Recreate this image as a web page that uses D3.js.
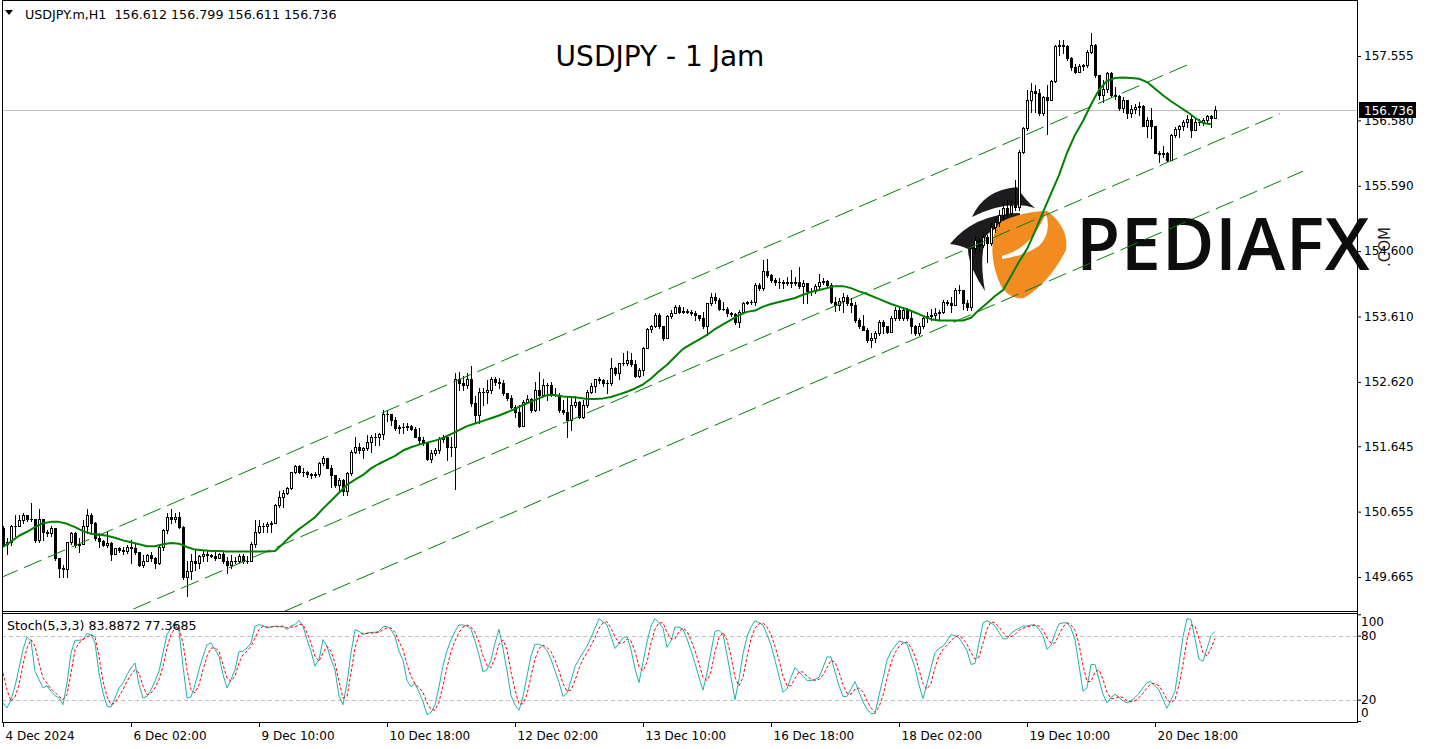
<!DOCTYPE html>
<html>
<head>
<meta charset="utf-8">
<script src="https://cdn.jsdelivr.net/npm/d3@7"></script>
<style>
  body { margin: 0; background: #fff; }
  svg { display: block; }
  text { font-family: "DejaVu Sans", Verdana, sans-serif; }
</style>
</head>
<body>
<div id="chart"></div>
<script>
// ---- chart data ----
var symbolHeader = "USDJPY.m,H1  156.612 156.799 156.611 156.736";
var chartTitle = "USDJPY - 1 Jam";
var stochHeader = "Stoch(5,3,3) 83.8872 77.3685";
var bidPrice = 156.736;
var firstOpen = 150.40;

var closes = [150.17,150.20,150.43,150.44,150.53,150.60,150.54,150.55,150.22,150.55,
150.35,150.33,150.40,149.95,149.80,149.78,150.20,150.33,150.15,150.17,
150.43,150.60,150.48,150.25,150.21,150.15,150.18,150.02,150.10,150.08,
150.06,150.12,150.10,150.05,149.85,149.91,150.00,149.96,149.87,150.12,
150.38,150.58,150.55,150.58,150.42,149.67,149.75,149.90,149.87,149.98,
150.01,150.00,149.99,149.95,150.01,149.91,149.85,149.91,149.91,149.99,
149.91,149.90,150.16,150.35,150.43,150.44,150.47,150.49,150.76,150.88,
150.93,151.02,151.25,151.34,151.26,151.25,151.22,151.21,151.23,151.39,
151.46,151.32,151.21,151.06,151.13,150.96,151.24,151.56,151.64,151.59,
151.62,151.71,151.79,151.79,151.83,152.14,152.14,152.04,151.92,151.93,
151.94,151.95,151.90,151.79,151.74,151.70,151.45,151.55,151.59,151.76,
151.79,151.64,151.63,152.67,152.60,152.57,152.66,152.30,152.12,152.47,
152.47,152.50,152.67,152.62,152.60,152.45,152.37,152.24,152.17,151.95,
152.32,152.36,152.19,152.50,152.42,152.57,152.57,152.42,152.42,152.19,
152.17,152.04,152.27,152.32,152.09,152.27,152.47,152.55,152.66,152.65,
152.60,152.60,152.83,152.75,152.90,152.90,152.95,152.89,152.71,152.80,
153.13,153.42,153.47,153.63,153.46,153.29,153.61,153.67,153.75,153.68,
153.69,153.68,153.66,153.63,153.58,153.46,153.81,153.91,153.86,153.73,
153.73,153.66,153.65,153.52,153.68,153.81,153.83,153.83,154.09,154.04,
154.30,154.24,154.16,154.14,154.14,154.12,154.14,154.11,154.14,154.07,
154.11,153.99,153.99,154.07,154.14,154.15,154.09,153.83,153.78,153.85,
153.91,153.81,153.78,153.56,153.46,153.41,153.25,153.28,153.36,153.53,
153.46,153.38,153.58,153.71,153.58,153.71,153.58,153.46,153.36,153.47,
153.58,153.61,153.63,153.66,153.68,153.83,153.81,153.78,154.01,154.01,
153.81,153.76,154.64,154.77,154.69,154.82,154.72,154.97,155.04,155.15,
155.25,155.18,155.30,155.27,156.10,156.46,156.89,157.03,156.99,156.69,
156.93,156.89,157.17,157.71,157.72,157.71,157.52,157.39,157.32,157.40,
157.42,157.62,157.72,157.27,156.96,157.05,157.29,156.96,156.95,156.76,
156.89,156.69,156.75,156.78,156.80,156.50,156.59,156.49,156.09,156.07,
156.08,155.98,156.36,156.45,156.49,156.55,156.60,156.43,156.56,156.56,
156.59,156.64,156.612,156.736];

var highs = [150.43,150.25,150.45,150.60,150.60,150.63,150.58,150.78,150.55,150.70,
150.55,150.38,150.43,150.41,149.95,149.85,150.20,150.34,150.34,150.25,
150.53,150.70,150.64,150.50,150.33,150.22,150.35,150.20,150.11,150.12,
150.12,150.15,150.22,150.17,150.05,150.00,150.01,150.05,149.97,150.15,
150.39,150.63,150.70,150.63,150.65,150.44,149.90,150.02,150.07,150.00,
150.07,150.07,150.02,150.07,150.03,150.05,149.97,150.00,149.97,150.02,
150.02,149.98,150.20,150.53,150.53,150.48,150.50,150.52,150.77,150.96,
150.98,151.03,151.26,151.36,151.36,151.32,151.27,151.24,151.25,151.41,
151.50,151.46,151.36,151.21,151.16,151.15,151.26,151.59,151.79,151.69,
151.63,151.82,151.82,151.85,151.85,152.19,152.19,152.14,152.09,151.97,
151.99,151.99,151.97,151.94,151.92,151.79,151.71,151.59,151.62,151.78,
151.82,151.82,151.79,152.75,152.77,152.71,152.75,152.86,152.40,152.52,
152.53,152.65,152.70,152.70,152.68,152.65,152.45,152.42,152.27,152.27,
152.35,152.42,152.37,152.62,152.77,152.67,152.60,152.62,152.53,152.45,
152.35,152.40,152.40,152.40,152.33,152.35,152.50,152.60,152.67,152.69,
152.67,152.65,152.98,152.85,152.91,153.05,153.08,153.06,152.95,152.83,
153.15,153.43,153.48,153.66,153.66,153.47,153.63,153.71,153.78,153.78,
153.75,153.73,153.71,153.69,153.63,153.68,153.82,153.96,153.97,153.89,
153.83,153.76,153.68,153.67,153.71,153.83,153.84,153.86,154.11,154.12,
154.47,154.48,154.26,154.19,154.19,154.16,154.21,154.31,154.21,154.36,
154.16,154.12,154.04,154.10,154.25,154.19,154.16,154.12,153.91,153.89,
153.96,153.94,153.89,153.83,153.58,153.63,153.43,153.36,153.39,153.56,
153.56,153.47,153.61,153.76,153.76,153.76,153.74,153.68,153.48,153.51,
153.63,153.68,153.73,153.74,153.71,153.86,153.86,153.91,154.04,154.09,
154.01,153.86,154.67,154.82,154.80,154.87,154.84,155.02,155.10,155.22,
155.33,155.37,155.37,155.68,156.13,156.48,157.04,157.15,157.12,157.05,
156.95,157.12,157.19,157.72,157.79,157.80,157.72,157.54,157.43,157.43,
157.44,157.65,157.91,157.74,157.27,157.19,157.32,157.32,157.09,156.96,
156.93,156.89,156.81,156.83,156.86,156.81,156.63,156.76,156.50,156.12,
156.19,156.10,156.38,156.48,156.51,156.59,156.66,156.66,156.61,156.60,
156.61,156.66,156.66,156.799];

var lows = [150.15,150.02,150.15,150.28,150.43,150.48,150.52,150.52,150.20,150.20,
150.22,150.28,150.28,149.92,149.67,149.67,149.66,150.17,150.12,150.05,
150.16,150.33,150.33,150.22,150.12,150.13,150.12,149.92,150.01,150.05,
150.02,150.03,149.87,150.02,149.83,149.82,149.90,149.90,149.80,149.86,
150.07,150.33,150.48,150.50,150.40,149.64,149.37,149.64,149.77,149.80,
149.90,149.90,149.97,149.92,149.95,149.87,149.72,149.80,149.87,149.87,
149.87,149.87,149.95,150.12,150.33,150.35,150.35,150.35,150.48,150.73,
150.73,150.92,151.00,151.24,151.24,151.20,151.18,151.16,151.18,151.20,
151.36,151.31,151.03,151.03,150.96,150.91,150.91,151.21,151.54,151.54,
151.46,151.59,151.56,151.66,151.66,151.76,152.02,151.97,151.89,151.84,
151.84,151.89,151.89,151.78,151.69,151.66,151.44,151.41,151.51,151.54,
151.71,151.44,151.49,151.00,152.50,152.50,152.52,152.25,151.99,151.99,
152.27,152.30,152.45,152.57,152.53,152.42,152.35,152.22,152.09,151.94,
151.97,152.30,152.17,152.18,152.19,152.45,152.35,152.40,152.41,152.17,
152.14,151.79,151.89,152.24,152.07,152.07,152.24,152.45,152.47,152.60,
152.55,152.45,152.57,152.72,152.67,152.87,152.87,152.86,152.69,152.70,
152.72,153.13,153.38,153.45,153.43,153.25,153.29,153.58,153.66,153.67,
153.66,153.66,153.63,153.56,153.56,153.43,153.33,153.78,153.81,153.71,
153.71,153.61,153.61,153.50,153.45,153.68,153.80,153.80,153.78,154.01,
154.01,154.21,154.13,154.09,154.04,154.04,154.09,154.06,154.09,154.04,
153.81,153.81,153.94,153.97,154.04,154.10,154.06,153.81,153.70,153.71,
153.68,153.78,153.68,153.53,153.43,153.40,153.23,153.15,153.23,153.33,
153.36,153.36,153.38,153.56,153.56,153.56,153.56,153.36,153.33,153.33,
153.43,153.53,153.55,153.56,153.56,153.66,153.78,153.68,153.78,153.96,
153.73,153.71,153.71,154.57,154.62,154.67,154.44,154.69,154.89,154.98,
155.07,155.13,155.15,155.22,155.22,156.08,156.43,156.71,156.71,156.66,
156.66,156.38,156.91,157.16,157.57,157.60,157.49,157.34,157.29,157.31,
157.34,157.39,157.60,157.24,156.91,156.86,157.01,156.94,156.91,156.74,
156.71,156.61,156.63,156.69,156.66,156.49,156.33,156.31,156.08,155.95,
156.03,155.97,155.98,156.33,156.33,156.43,156.48,156.33,156.43,156.51,
156.51,156.56,156.48,156.611];

// green moving average, one reading every second bar
var maEvery = 2;
var maValues = [150.12,150.20,150.29,150.35,150.42,150.48,150.50,150.50,150.47,150.42,
150.36,150.32,150.31,150.29,150.26,150.22,150.19,150.16,150.13,150.13,
150.16,150.18,150.17,150.12,150.08,150.07,150.06,150.06,150.05,150.05,
150.05,150.05,150.05,150.05,150.06,150.17,150.29,150.39,150.48,150.57,
150.70,150.82,150.94,151.06,151.14,151.21,151.31,151.38,151.44,151.50,
151.58,151.63,151.67,151.70,151.73,151.77,151.83,151.89,151.95,151.99,
152.03,152.07,152.11,152.16,152.21,152.27,152.32,152.37,152.42,152.42,
152.40,152.39,152.38,152.36,152.36,152.37,152.39,152.43,152.47,152.52,
152.58,152.67,152.78,152.88,153.00,153.12,153.19,153.26,153.33,153.42,
153.49,153.56,153.63,153.68,153.70,153.76,153.80,153.83,153.86,153.89,
153.94,153.98,154.01,154.04,154.07,154.07,154.04,153.99,153.95,153.90,
153.85,153.80,153.76,153.72,153.67,153.62,153.57,153.55,153.55,153.55,
153.55,153.59,153.71,153.81,153.92,154.01,154.22,154.44,154.63,154.90,
155.19,155.47,155.75,156.09,156.36,156.57,156.82,157.04,157.18,157.22,
157.23,157.22,157.21,157.16,157.06,156.96,156.87,156.79,156.71,156.62,
156.54,156.52];

// channel lines: [bar, price] anchors
var channelUpper = [[-0.75, 149.65], [297.25, 157.45]];
var channelMiddle = [[32.6, 149.18], [319.25, 156.68]];
var channelLower = [[70.5, 149.15], [325, 155.81]];

// stochastic %K (main) and %D (signal), one value per bar
var stochK = [16.9,12.2,20,32.5,49.7,66.9,78.7,74.7,46.6,38.8,31,33.1,27.8,23.8,21.5,15.3,35.6,63.8,75.6,75.6,
76.3,81.9,80.9,73.1,45,26.3,13.8,13.1,21.5,31,35.6,43.4,49.7,54.4,34.1,21.5,23.1,29.4,37.2,46.6,
63.8,80.9,87.2,91.9,84.1,51.3,21.5,22.5,34.1,48.1,60.6,71.6,73.1,66.9,60.6,43.4,31,38.8,48.1,65.3,
65.3,68.4,73.1,88.8,90.3,89.4,87.2,88.1,88.8,88.1,89.4,85.6,89.4,90.3,94.4,88.8,76.3,65.3,51.3,57.5,
76.3,70,57.5,48.1,23.1,15.3,35.6,63.8,85.6,84.1,80.9,82.5,83.1,83.1,84.1,88.1,88.8,85.6,79.4,65.3,
57,38,32,35,27,18,6,8,15,32,52,66,76,84,90,90,89,86,75,62,
46,48,57,73,86,68,47,24,15,10,23,42,61,72,72,70,66,58,47,36,
23,26,38,51,58,64,70,78,87,96,93,90,79,68,73,78,79,67,49,36,
55,74,89,96,92,87,69,75,88,88,86,77,66,54,41,29,45,65,84,85,
81,62,41,20,39,63,79,88,94,92,90,81,71,57,42,27,30,41,50,46,
42,38,38,39,41,50,60,60,46,33,23,23,30,37,27,18,11,7,7,24,
40,57,65,70,75,74,72,61,50,34,21,35,50,64,68,70,75,81,80,78,
72,66,53,54,73,92,94,92,89,83,77,77,82,85,87,89,89,90,90,86,
80,67,71,82,91,92,92,87,76,52,28,31,53,53,39,25,17,22,25,22,
19,17,19,22,26,31,36,37,33,29,20,12,20,28,53,79,96,95,77,58,
56,68,80,83.89];

var stochD = [45,29.4,18.4,22.5,34.1,52.8,68.4,76.3,70,54.4,40.3,35.6,30,26.9,23.1,20,24.7,45,66.9,73.1,
76.3,78.8,80.9,78.8,60.6,37.2,23.1,15.3,16.9,23.1,29.4,37.2,43.4,48.1,45,32.5,24.7,26.3,31,38.8,
51.3,68.4,80.9,87.2,87.2,73.1,48.1,29.4,26.3,34.1,48.1,60.6,68.4,68.4,65.3,52.8,40.3,37.2,41.9,54.4,
62.2,65.3,70,77.8,85.6,88.8,88.1,88.1,88.8,88.8,88.1,87.2,88.1,88.1,90.3,90.3,82.5,73.1,60.6,55.9,
63.8,70,65.3,54.4,37.2,21.5,23.1,45,68.4,80.9,82.5,81.9,82.5,82.5,83.1,85.6,87.2,87.2,83.1,74.7,
67,53,42,35,31,27,17,11,10,18,33,50,65,75,83,88,90,88,83,74,
61,52,50,59,72,76,67,46,29,16,16,25,42,58,68,71,69,65,57,47,
35,28,29,38,49,58,64,71,78,87,92,93,87,79,73,73,77,75,65,51,
47,55,73,86,92,92,83,77,77,84,87,84,76,66,54,41,38,46,65,78,
83,76,61,41,33,41,60,77,87,91,92,88,81,70,57,42,33,33,40,46,
46,42,39,38,39,43,50,57,55,46,34,26,25,30,31,27,19,12,8,13,
24,40,54,64,70,73,74,69,61,48,35,30,35,50,61,67,71,75,79,80,
77,72,64,58,60,73,86,93,92,88,83,79,79,81,85,87,88,89,90,89,
85,78,73,73,81,88,92,90,85,72,52,37,37,46,48,39,27,21,21,23,
22,19,18,19,22,26,31,35,35,33,27,20,17,20,34,53,76,90,89,77,
64,61,68,77.37];

var priceTicks = [149.665, 150.655, 151.645, 152.620, 153.610, 154.600, 155.590, 156.580, 157.555];
var stochTicks = [0, 20, 80, 100];
var stochLevels = [20, 80];
var dateTickBars = [0, 32, 64, 96, 128, 160, 192, 224, 256, 288];
var dateLabels = ["4 Dec 2024", "6 Dec 02:00", "9 Dec 10:00", "10 Dec 18:00", "12 Dec 02:00",
  "13 Dec 10:00", "16 Dec 18:00", "18 Dec 02:00", "19 Dec 10:00", "20 Dec 18:00"];

// ---- layout ----
var width = 1429, height = 749;
var frameLeft = 2, frameRight = 1357;
var mainTop = 0, mainBottom = 611;
var stochTop = 613, stochBottom = 722;

var svg = d3.select("#chart").append("svg")
  .attr("width", width)
  .attr("height", height)
  .style("background", "#fff");

var x = d3.scaleLinear().domain([0, closes.length - 1]).range([3, 1215]);
var y = d3.scaleLinear().domain([149.665, 157.555]).range([577, 56]);
var sy = d3.scaleLinear().domain([0, 100]).range([721, 614.3]);

var defs = svg.append("defs");
defs.append("clipPath").attr("id", "clipMain").append("rect")
  .attr("x", frameLeft + 1).attr("y", mainTop + 1)
  .attr("width", frameRight - frameLeft - 1).attr("height", mainBottom - mainTop - 1);
defs.append("clipPath").attr("id", "clipStoch").append("rect")
  .attr("x", frameLeft + 1).attr("y", stochTop + 1)
  .attr("width", frameRight - frameLeft - 1).attr("height", stochBottom - stochTop - 1);

// ---- PEDIAFX watermark (behind the chart) ----
var logo = svg.append("g");
logo.append("path") // hat
  .attr("d", "M972,217 Q984,190 1017,187 Q1025,200 1035,208 Q1008,199 972,217 Z")
  .attr("fill", "#1c1c1e");
logo.append("path") // swoosh
  .attr("d", "M950,244 Q974,214 1020,213 L1020,224 Q996,224 986,236 Q979,258 985,291 Q968,266 968,249 Q960,245 950,244 Z")
  .attr("fill", "#1c1c1e");
logo.append("path") // orange body
  .attr("d", "M1000,222 Q1024,211 1047,211 Q1069,227 1066,250 Q1050,282 1024,298 Q1010,300 1001,286 Q990,262 993,240 Q995,228 1000,222 Z")
  .attr("fill", "#f28b20");
logo.append("path") // white cut in the orange
  .attr("d", "M1002,256 Q1031,249 1046,213 Q1052,233 1039,246 Q1024,256 1002,259 Z")
  .attr("fill", "#fff");
logo.append("text")
  .attr("x", 1076).attr("y", 270)
  .style("font-family", "'Open Sans', 'Noto Sans', sans-serif")
  .style("font-weight", 600)
  .style("font-size", "72px")
  .style("letter-spacing", "0.6px")
  .attr("fill", "#0d0d0d")
  .text("PEDIAFX");
logo.append("text")
  .attr("transform", "translate(1390,247) rotate(-90)")
  .attr("text-anchor", "middle")
  .style("font-size", "15px")
  .attr("fill", "#222")
  .text(".COM");

// ---- main panel ----
var main = svg.append("g").attr("clip-path", "url(#clipMain)");

main.append("line")
  .attr("x1", frameLeft).attr("x2", frameRight)
  .attr("y1", Math.round(y(bidPrice)) + 0.5).attr("y2", Math.round(y(bidPrice)) + 0.5)
  .attr("stroke", "#c0c0c0");

var bars = closes.map(function (c, i) {
  var o = i === 0 ? firstOpen : closes[i - 1];
  return { i: i, o: o, c: c, h: Math.max(highs[i], o, c), l: Math.min(lows[i], o, c) };
});

var candles = main.append("g").attr("shape-rendering", "crispEdges");
candles.selectAll("line.wick")
  .data(bars)
  .enter()
  .append("line")
  .attr("class", "wick")
  .attr("x1", function (d) { return x(d.i) + 0.5; })
  .attr("x2", function (d) { return x(d.i) + 0.5; })
  .attr("y1", function (d) { return Math.round(y(d.h)); })
  .attr("y2", function (d) { return Math.round(y(d.l)) + 1; })
  .attr("stroke", "#000");

candles.selectAll("rect.body")
  .data(bars)
  .enter()
  .append("rect")
  .attr("class", "body")
  .each(function (d) {
    var top = Math.round(y(Math.max(d.o, d.c)));
    var bot = Math.round(y(Math.min(d.o, d.c)));
    var r = d3.select(this);
    if (d.c > d.o && bot - top >= 2) {
      r.attr("x", x(d.i) - 0.5).attr("y", top + 0.5)
        .attr("width", 2).attr("height", bot - top)
        .attr("fill", "#fff").attr("stroke", "#000");
    } else {
      r.attr("x", x(d.i) - 1).attr("y", top)
        .attr("width", 3).attr("height", Math.max(bot - top, 0) + 1)
        .attr("fill", "#000");
    }
  });

// channel lines
var chanLine = d3.line()
  .x(function (d) { return x(d[0]); })
  .y(function (d) { return y(d[1]); });
[channelUpper, channelMiddle, channelLower].forEach(function (pts) {
  main.append("path")
    .attr("d", chanLine(pts))
    .attr("fill", "none")
    .attr("stroke", "#008000")
    .attr("stroke-width", 1)
    .attr("stroke-dasharray", "19,7");
});

// moving average
main.append("path")
  .attr("d", d3.line()
    .x(function (d, k) { return x(k * maEvery); })
    .y(function (d) { return y(d); })(maValues))
  .attr("fill", "none")
  .attr("stroke", "#008000")
  .attr("stroke-width", 2)
  .attr("stroke-linejoin", "round");

// chart title
svg.append("text")
  .attr("x", 660).attr("y", 66)
  .attr("text-anchor", "middle")
  .style("font-size", "28px")
  .attr("fill", "#000")
  .text(chartTitle);

// ---- stochastic panel ----
var stoch = svg.append("g").attr("clip-path", "url(#clipStoch)");
stochLevels.forEach(function (v) {
  stoch.append("line")
    .attr("x1", frameLeft).attr("x2", frameRight)
    .attr("y1", Math.round(sy(v)) + 0.5).attr("y2", Math.round(sy(v)) + 0.5)
    .attr("stroke", "#c0c0c0")
    .attr("stroke-dasharray", "4,3");
});
var stochLine = d3.line()
  .x(function (d, i) { return x(i); })
  .y(function (d) { return sy(d); });
stoch.append("path")
  .attr("d", stochLine(stochK))
  .attr("fill", "none")
  .attr("stroke", "#20b2aa")
  .attr("stroke-width", 1);
stoch.append("path")
  .attr("d", stochLine(stochD))
  .attr("fill", "none")
  .attr("stroke", "#ff0000")
  .attr("stroke-width", 1)
  .attr("stroke-dasharray", "3,2");

// ---- frames ----
var frame = svg.append("g").attr("stroke", "#000").attr("shape-rendering", "crispEdges");
frame.append("line").attr("x1", frameLeft + 0.5).attr("x2", frameLeft + 0.5).attr("y1", 0).attr("y2", stochBottom + 1);
frame.append("line").attr("x1", frameRight + 0.5).attr("x2", frameRight + 0.5).attr("y1", 0).attr("y2", stochBottom + 1);
[mainTop, mainBottom, stochTop, stochBottom].forEach(function (yy) {
  frame.append("line").attr("x1", frameLeft).attr("x2", frameRight + 1)
    .attr("y1", yy + 0.5).attr("y2", yy + 0.5);
});

// ---- axes ----
var priceAxis = svg.append("g")
  .attr("transform", "translate(" + frameRight + ",0)")
  .call(d3.axisRight(y).tickValues(priceTicks).tickSize(4).tickPadding(3)
    .tickFormat(d3.format(".3f")));
priceAxis.select(".domain").remove();
priceAxis.selectAll("text").attr("font-size", 12).attr("font-family", "DejaVu Sans").attr("fill", "#000");

var stochAxis = svg.append("g")
  .attr("transform", "translate(" + frameRight + ",0)")
  .call(d3.axisRight(sy).tickValues(stochTicks).tickSize(4).tickPadding(0));
stochAxis.select(".domain").remove();
stochAxis.selectAll("text")
  .attr("font-size", 12).attr("font-family", "DejaVu Sans").attr("fill", "#000")
  .attr("y", function (d) {
    var yy = sy(d);
    var c = Math.min(Math.max(yy, stochTop + 9), stochBottom - 9);
    return c - yy;
  });

var dateAxis = svg.append("g")
  .attr("transform", "translate(0," + stochBottom + ")")
  .call(d3.axisBottom(x).tickValues(dateTickBars).tickSize(5).tickPadding(4)
    .tickFormat(function (d, i) { return dateLabels[i]; }));
dateAxis.select(".domain").remove();
dateAxis.selectAll("text")
  .attr("font-size", 12).attr("font-family", "DejaVu Sans").attr("fill", "#000")
  .attr("text-anchor", "start").attr("x", 2);

// bid price marker (covers the top of the 156.580 label, as in the terminal)
var bidY = Math.round(y(bidPrice));
svg.append("rect")
  .attr("x", frameRight + 2).attr("y", bidY - 8)
  .attr("width", 57).attr("height", 16)
  .attr("fill", "#000");
svg.append("text")
  .attr("x", frameRight + 7).attr("y", bidY + 4.5)
  .style("font-size", "12px")
  .attr("fill", "#fff")
  .text(d3.format(".3f")(bidPrice));

// ---- headers ----
svg.append("path").attr("d", "M5,10 L13,10 L9,15 Z").attr("fill", "#000");
svg.append("text")
  .attr("x", 25).attr("y", 19)
  .style("font-size", "12.7px")
  .style("white-space", "pre")
  .attr("fill", "#000")
  .text(symbolHeader);
svg.append("text")
  .attr("x", 7).attr("y", 630)
  .style("font-size", "12.6px")
  .attr("fill", "#000")
  .text(stochHeader);
</script>
</body>
</html>
